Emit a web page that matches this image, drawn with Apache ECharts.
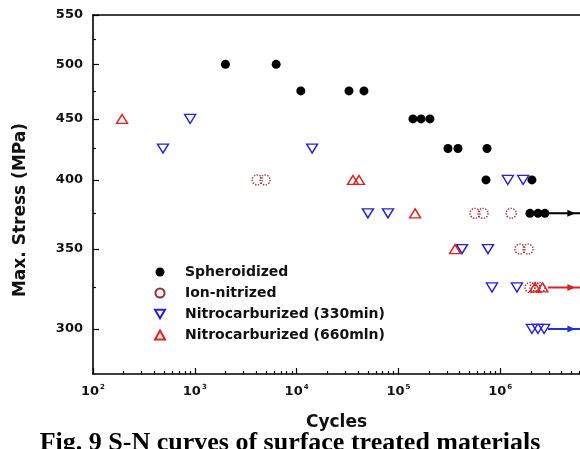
<!DOCTYPE html>
<html>
<head>
<meta charset="utf-8">
<script src="https://cdn.jsdelivr.net/npm/echarts@6/dist/echarts.min.js"></script>
<style>
html,body{margin:0;padding:0;background:#fff;}
#chart{width:580px;height:449px;}
</style>
</head>
<body>
<div id="chart"></div>
<script>
// ---- data (cycles, max stress MPa) ----
var seriesNames = ['Spheroidized', 'Ion-nitrized', 'Nitrocarburized (330min)', 'Nitrocarburized (660mln)'];
var spheroidized = [
  [2000, 500], [6300, 500],
  [11000, 475], [32700, 475], [45900, 475],
  [139000, 450], [167000, 450], [204000, 450],
  [307000, 425], [385000, 425], [742000, 425],
  [725000, 400], [2050000, 400],
  [1960000, 375], [2350000, 375], [2750000, 375]
];
var ionNitrized = [
  [4100, 400], [4900, 400],
  [565000, 375], [678000, 375], [1280000, 375],
  [1560000, 350], [1880000, 350],
  [1960000, 325], [2200000, 325], [2460000, 325]
];
var nitro330 = [
  [900, 450],
  [487, 425], [14200, 425],
  [1190000, 400], [1680000, 400],
  [50200, 375], [79000, 375],
  [422000, 350], [759000, 350],
  [830000, 325], [1460000, 325],
  [2050000, 300], [2350000, 300], [2700000, 300]
];
var nitro660 = [
  [193, 450],
  [35800, 400], [41000, 400],
  [146000, 375],
  [360000, 350],
  [2200000, 325], [2600000, 325]
];
// run-out arrows: start, arrow head, end (cycles, stress)
var runoutBlack = [[2950000, 375], [5000000, 375], [6080000, 375]];
var runoutRed = [[2950000, 325], [5000000, 325], [6080000, 325]];
var runoutBlue = [[2950000, 300], [5000000, 300], [6080000, 300]];

var xMajorTicks = [100, 1000, 10000, 100000, 1000000];
var xMinorTicks = [];
[100, 1000, 10000, 100000, 1000000].forEach(function (d) {
  for (var k = 2; k <= 9; k++) { xMinorTicks.push(d * k); }
});
var yMajorTicks = [300, 350, 400, 450, 500, 550];
var yMinorTicks = [325, 375, 425, 475, 525];
var xMin = 100, xMax = 6080000, yMin = 275, yMax = 550;

var FONT = 'DejaVu Sans';
var chart = echarts.init(document.getElementById('chart'), null, {renderer: 'canvas'});

function runoutSeries(data, color) {
  return {
    type: 'line', name: 'runout', xAxisIndex: 0, yAxisIndex: 0,
    symbol: 'none', showSymbol: true, silent: true,
    lineStyle: {color: color, width: 2},
    itemStyle: {color: color, opacity: 1},
    data: data.map(function (p, i) {
      if (i === 1) return {value: p, symbol: 'triangle', symbolRotate: -90, symbolSize: [7, 8]};
      return {value: p, symbol: 'none'};
    }),
    z: 1
  };
}

var axisLineStyle = {color: '#000', width: 1.6};

var option = {
  animation: false,
  backgroundColor: '#fff',
  title: {
    text: 'Fig. 9 S-N curves of surface treated materials',
    left: 'center',
    top: 425,
    textStyle: {fontFamily: 'Liberation Serif', fontWeight: 'bold', fontSize: 26, color: '#000'}
  },
  grid: {left: 93, right: 0, top: 15, bottom: 75},
  legend: {
    data: [
      {name: seriesNames[0]},
      {name: seriesNames[1]},
      {name: seriesNames[2], icon: 'path://M0,0 L10,0 L5,8.5 Z'},
      {name: seriesNames[3]}
    ],
    orient: 'vertical',
    left: 149, top: 260,
    itemWidth: 10, itemHeight: 9, itemGap: 7,
    textStyle: {fontFamily: FONT, fontWeight: 'bold', fontSize: 14, color: '#111', lineHeight: 14, padding: [0, 0, 0, 15]}
  },
  graphic: [{
    type: 'text',
    x: 21, y: 210,
    rotation: Math.PI / 2,
    style: {
      text: 'Max. Stress (MPa)',
      font: 'bold 17px "DejaVu Sans"',
      fill: '#111',
      align: 'center',
      verticalAlign: 'middle'
    }
  }],
  xAxis: [{
    type: 'log', min: xMin, max: xMax, position: 'bottom',
    name: 'Cycles', nameLocation: 'middle', nameGap: 40,
    nameTextStyle: {fontFamily: FONT, fontWeight: 'bold', fontSize: 17, color: '#111'},
    axisLine: {lineStyle: axisLineStyle},
    axisTick: {inside: true, length: 6, customValues: xMajorTicks, lineStyle: {color: '#000', width: 1.2}},
    minorTick: {show: false},
    axisLabel: {
      customValues: xMajorTicks, margin: 10,
      formatter: function (v) {
        return '{b|10}{s|' + Math.round(Math.log10(v)) + '}';
      },
      rich: {
        b: {fontFamily: FONT, fontWeight: 'bold', fontSize: 13, color: '#111'},
        s: {fontFamily: FONT, fontWeight: 'bold', fontSize: 7, color: '#111', padding: [0, 0, 8, 1]}
      }
    },
    splitLine: {show: false}
  }, {
    type: 'log', min: xMin, max: xMax, position: 'bottom',
    axisLine: {show: false},
    axisTick: {inside: true, length: 3, customValues: xMinorTicks, lineStyle: {color: '#000', width: 1.2}},
    axisLabel: {show: false},
    splitLine: {show: false}
  }, {
    type: 'log', min: xMin, max: xMax, position: 'top',
    axisLine: {lineStyle: axisLineStyle},
    axisTick: {show: false},
    axisLabel: {show: false},
    splitLine: {show: false}
  }],
  yAxis: [{
    type: 'log', min: yMin, max: yMax, position: 'left',
    axisLine: {show: true, lineStyle: axisLineStyle},
    axisTick: {show: true, inside: true, length: 6, customValues: yMajorTicks, lineStyle: {color: '#000', width: 1.2}},
    axisLabel: {
      customValues: yMajorTicks, margin: 10,
      fontFamily: FONT, fontWeight: 'bold', fontSize: 13, color: '#111'
    },
    splitLine: {show: false}
  }, {
    type: 'log', min: yMin, max: yMax, position: 'left',
    axisLine: {show: false},
    axisTick: {show: true, inside: true, length: 3, customValues: yMinorTicks, lineStyle: {color: '#000', width: 1.2}},
    axisLabel: {show: false},
    splitLine: {show: false}
  }],
  series: [
    {
      name: seriesNames[0], type: 'scatter', data: spheroidized,
      symbol: 'circle', symbolSize: 9,
      itemStyle: {color: '#000', opacity: 1}, z: 3
    },
    {
      name: seriesNames[1], type: 'scatter', data: ionNitrized,
      symbol: 'circle', symbolSize: 10,
      itemStyle: {color: 'rgba(255,255,255,0)', borderColor: '#a52a30', borderWidth: 1.4, borderType: 'dotted', opacity: 1}, z: 3
    },
    {
      name: seriesNames[2], type: 'scatter', data: nitro330,
      symbol: 'triangle', symbolRotate: 180, symbolSize: [11, 9],
      itemStyle: {color: 'rgba(255,255,255,0)', borderColor: '#2020e8', borderWidth: 1.4, opacity: 1}, z: 3
    },
    {
      name: seriesNames[3], type: 'scatter', data: nitro660,
      symbol: 'triangle', symbolSize: [11, 9],
      itemStyle: {color: 'rgba(255,255,255,0)', borderColor: '#e81e1e', borderWidth: 1.4, opacity: 1}, z: 3
    },
    runoutSeries(runoutBlack, '#000'),
    runoutSeries(runoutRed, '#e02020'),
    runoutSeries(runoutBlue, '#2233dd')
  ]
};
chart.setOption(option);
</script>
</body>
</html>
